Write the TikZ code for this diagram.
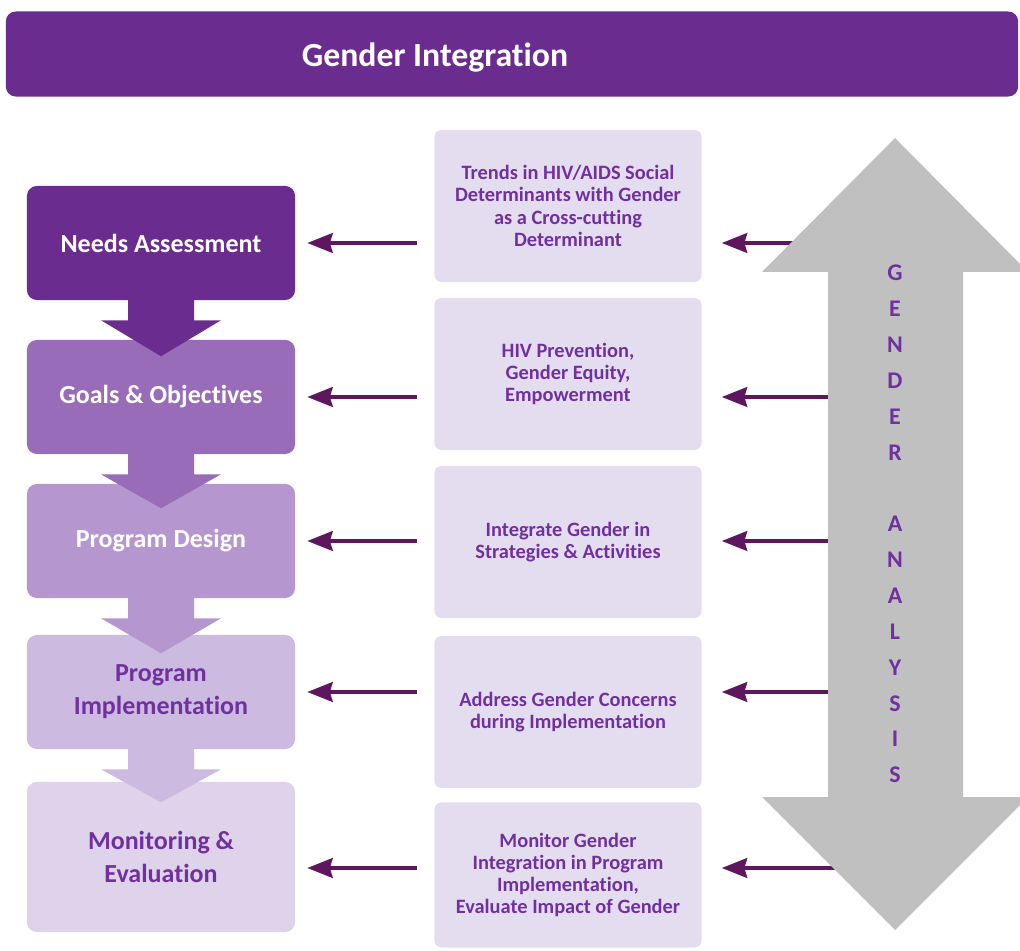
\documentclass[tikz,border=0pt]{standalone}
\usepackage{fontspec}
\setmainfont{Carlito}[Ligatures=NoCommon]
\usetikzlibrary{arrows.meta,calc}

\definecolor{titlepurple}{RGB}{106,45,143}
\definecolor{goalsfill}{RGB}{152,108,184}
\definecolor{designfill}{RGB}{182,150,206}
\definecolor{implfill}{RGB}{205,186,225}
\definecolor{monfill}{RGB}{222,211,235}
\definecolor{infofill}{RGB}{228,221,240}
\definecolor{textpurple}{RGB}{112,48,160}
\definecolor{arrowpurple}{RGB}{94,22,94}
\definecolor{arrowgray}{RGB}{192,192,192}

\begin{document}
\begin{tikzpicture}[x=0.025cm, y=-0.025cm,
    stage/.style={rounded corners=7pt, minimum width=6.7cm, minimum height=2.85cm, inner sep=0pt,
        align=center, font=\fontsize{18.5}{23.5}\selectfont\bfseries},
    info/.style={fill=infofill, rounded corners=5pt, minimum width=6.675cm, minimum height=3.8cm,
        inner sep=0pt, align=center, text=textpurple, font=\fontsize{14.5}{15.8}\selectfont\bfseries},
    feed/.style={draw=arrowpurple, line width=2.7pt, -{Stealth[length=18pt,width=14pt,inset=2pt]}}]

    \useasboundingbox (0,0) rectangle (1020,951);
    \clip (0,0) rectangle (1020,951);

    % title bar
    \node[fill=titlepurple, rounded corners=7pt, minimum width=25.3cm, minimum height=2.125cm] (bar) at (512,54) {};
    \node[text=white, font=\fontsize{24}{28}\selectfont\bfseries] (title) at (435,58) {Gender Integration};

    % steps on the left
    \node[stage, fill=titlepurple, text=white] (n1) at (161,243) {Needs Assessment};
    \node[stage, fill=goalsfill, text=white] (n2) at (161,397) {Goals \& Objectives};
    \node[stage, fill=designfill, text=white] (n3) at (161,541) {Program Design};
    \node[stage, fill=implfill, text=textpurple] (n4) at (161,692) {Program\\Implementation};
    \node[stage, fill=monfill, text=textpurple, minimum height=3.75cm] (n5) at (161,857) {Monitoring \&\\Evaluation};

    % block arrows between the steps
    \fill[titlepurple] ($(n1.south)+(-33,-1)$) -- ($(n1.south)+(-33,20)$) -- ($(n1.south)+(-60,20)$) -- ($(n1.south)+(0,56)$)
        -- ($(n1.south)+(60,20)$) -- ($(n1.south)+(33,20)$) -- ($(n1.south)+(33,-1)$) -- cycle;
    \fill[goalsfill] ($(n2.south)+(-33,-1)$) -- ($(n2.south)+(-33,20)$) -- ($(n2.south)+(-60,20)$) -- ($(n2.south)+(0,54)$)
        -- ($(n2.south)+(60,20)$) -- ($(n2.south)+(33,20)$) -- ($(n2.south)+(33,-1)$) -- cycle;
    \fill[designfill] ($(n3.south)+(-33,-1)$) -- ($(n3.south)+(-33,20)$) -- ($(n3.south)+(-60,20)$) -- ($(n3.south)+(0,55)$)
        -- ($(n3.south)+(60,20)$) -- ($(n3.south)+(33,20)$) -- ($(n3.south)+(33,-1)$) -- cycle;
    \fill[implfill] ($(n4.south)+(-33,-1)$) -- ($(n4.south)+(-33,20)$) -- ($(n4.south)+(-60,20)$) -- ($(n4.south)+(0,53)$)
        -- ($(n4.south)+(60,20)$) -- ($(n4.south)+(33,20)$) -- ($(n4.south)+(33,-1)$) -- cycle;

    % boxes in the middle
    \node[info] (m1) at (568,206) {Trends in HIV/AIDS Social\\Determinants with Gender\\as a Cross-cutting\\Determinant};
    \node[info] (m2) at (568,374) {HIV Prevention,\\Gender Equity,\\Empowerment};
    \node[info] (m3) at (568,542) {Integrate Gender in\\Strategies \& Activities};
    \node[info] (m4) at (568,712) {Address Gender Concerns\\during Implementation};
    \node[info, minimum height=3.625cm] (m5) at (568,875) {Monitor Gender\\Integration in Program\\Implementation,\\Evaluate Impact of Gender};

    % arrows to the steps
    \draw[feed, shorten <=0.425cm, shorten >=0.3cm] (m1.west |- n1.east) -- (n1.east);
    \draw[feed, shorten <=0.425cm, shorten >=0.3cm] (m2.west |- n2.east) -- (n2.east);
    \draw[feed, shorten <=0.425cm, shorten >=0.3cm] (m3.west |- n3.east) -- (n3.east);
    \draw[feed, shorten <=0.425cm, shorten >=0.3cm] (m4.west |- n4.east) -- (n4.east);
    \draw[feed, shorten <=0.425cm, shorten >=0.3cm] ($(m5.west |- n5.east)+(0,11)$) -- ($(n5.east)+(0,11)$);

    % arrows from the analysis arrow
    \coordinate (shaft) at (840,0);
    \draw[feed, shorten >=0.5cm] (shaft |- n1.east) -- (m1.east |- n1.east);
    \draw[feed, shorten >=0.5cm] (shaft |- n2.east) -- (m2.east |- n2.east);
    \draw[feed, shorten >=0.5cm] (shaft |- n3.east) -- (m3.east |- n3.east);
    \draw[feed, shorten >=0.5cm] (shaft |- n4.east) -- (m4.east |- n4.east);
    \draw[feed, shorten >=0.5cm] ($(shaft |- n5.east)+(0,11)$) -- ($(m5.east |- n5.east)+(0,11)$);

    % gender analysis
    \fill[arrowgray] (895,138) -- (1028,272) -- (963,272) -- (963,797) -- (1028,797) -- (895,930)
        -- (762,797) -- (828,797) -- (828,272) -- (762,272) -- cycle;
    \node[text=textpurple, align=center, font=\fontsize{17}{25.5}\selectfont\bfseries] (ga) at (895,524)
        {G\\E\\N\\D\\E\\R\\\mbox{}\\A\\N\\A\\L\\Y\\S\\I\\S};

\end{tikzpicture}
\end{document}
